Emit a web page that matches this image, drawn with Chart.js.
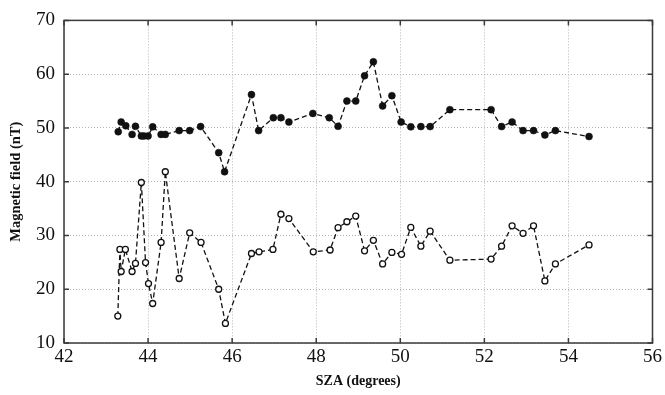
<!DOCTYPE html>
<html>
<head>
<meta charset="utf-8">
<script src="https://cdn.jsdelivr.net/npm/chart.js@4.4.1/dist/chart.umd.min.js"></script>
<style>
  html, body { margin: 0; padding: 0; background: #fff; }
  #wrap { width: 665px; height: 395px; }
</style>
</head>
<body>
<div id="wrap"><canvas id="myChart"></canvas></div>
<script>
// upper curve (filled dots)
var filledSza = [43.29, 43.36, 43.47, 43.62, 43.70, 43.84, 43.90, 44.00, 44.11, 44.31, 44.41, 44.74, 44.99, 45.25, 45.68, 45.82,
    46.46, 46.63, 46.98, 47.16, 47.35, 47.92, 48.31, 48.52, 48.73, 48.94, 49.15, 49.36, 49.58, 49.80, 50.02, 50.25, 50.49, 50.71,
    51.18, 52.16, 52.41, 52.66, 52.92, 53.17, 53.44, 53.69, 54.49];
var filledField = [49.3, 51.1, 50.4, 48.8, 50.3, 48.5, 48.5, 48.5, 50.2, 48.8, 48.8, 49.5, 49.5, 50.25, 45.4, 41.85,
    56.2, 49.5, 51.9, 51.9, 51.1, 52.7, 51.9, 50.3, 55.0, 55.0, 59.7, 62.3, 54.1, 56.0, 51.1, 50.2, 50.25, 50.25,
    53.4, 53.4, 50.25, 51.1, 49.5, 49.5, 48.7, 49.5, 48.4];

// lower curve (open circles)
var openSza = [43.28, 43.33, 43.36, 43.46, 43.62, 43.70, 43.84, 43.94, 44.01, 44.11, 44.31, 44.41, 44.74, 44.99, 45.26, 45.68, 45.84,
    46.46, 46.64, 46.97, 47.16, 47.35, 47.93, 48.33, 48.52, 48.73, 48.94, 49.15, 49.36, 49.58, 49.80, 50.03, 50.25, 50.49, 50.71,
    51.18, 52.16, 52.41, 52.66, 52.92, 53.17, 53.44, 53.69, 54.49];
var openField = [15.0, 27.4, 23.3, 27.4, 23.3, 24.8, 39.85, 24.95, 21.05, 17.35, 28.7, 41.85, 22.0, 30.5, 28.7, 20.0, 13.65,
    26.65, 26.95, 27.4, 33.95, 33.15, 26.95, 27.3, 31.45, 32.55, 33.6, 27.15, 29.1, 24.7, 26.85, 26.5, 31.5, 28.0, 30.8,
    25.4, 25.6, 28.0, 31.8, 30.4, 31.8, 21.55, 24.7, 28.25];

var xTicks = [42, 44, 46, 48, 50, 52, 54, 56];
var yTicks = [10, 20, 30, 40, 50, 60, 70];

function toPoints(xs, ys) {
    return xs.map(function (x, i) { return { x: x, y: ys[i] }; });
}

// box around the plot with small inward ticks
var frame = {
    id: 'frame',
    afterDraw: function (chart) {
        var ctx = chart.ctx;
        var a = chart.chartArea;
        var xs = chart.scales.x, ys = chart.scales.y;
        ctx.save();
        ctx.strokeStyle = '#3a3a3a';
        ctx.lineWidth = 1.5;
        ctx.strokeRect(a.left, a.top, a.right - a.left, a.bottom - a.top);
        ctx.beginPath();
        xTicks.forEach(function (v) {
            var px = xs.getPixelForValue(v);
            ctx.moveTo(px, a.bottom); ctx.lineTo(px, a.bottom - 5);
            ctx.moveTo(px, a.top); ctx.lineTo(px, a.top + 5);
        });
        yTicks.forEach(function (v) {
            var py = ys.getPixelForValue(v);
            ctx.moveTo(a.left, py); ctx.lineTo(a.left + 5, py);
            ctx.moveTo(a.right, py); ctx.lineTo(a.right - 5, py);
        });
        ctx.stroke();
        ctx.restore();
    }
};

var ctx = document.getElementById('myChart').getContext('2d');
var chart = new Chart(ctx, {
    type: 'line',
    data: {
        datasets: [
            {
                label: 'filled',
                data: toPoints(filledSza, filledField),
                borderColor: '#111',
                borderWidth: 1.3,
                borderDash: [5, 3],
                backgroundColor: '#111',
                pointBackgroundColor: '#111',
                pointBorderColor: '#111',
                pointRadius: 3.5,
                pointBorderWidth: 0.5,
                tension: 0
            },
            {
                label: 'open',
                data: toPoints(openSza, openField),
                borderColor: '#111',
                borderWidth: 1.3,
                borderDash: [5, 3],
                backgroundColor: '#fff',
                pointBackgroundColor: '#fff',
                pointBorderColor: '#111',
                pointRadius: 3,
                pointBorderWidth: 1.3,
                tension: 0
            }
        ]
    },
    options: {
        responsive: true,
        maintainAspectRatio: false,
        animation: false,
        layout: { padding: { top: 14, right: 10, left: 0, bottom: 0 } },
        plugins: {
            legend: { display: false },
            tooltip: { enabled: false }
        },
        scales: {
            x: {
                type: 'linear',
                min: 42,
                max: 56,
                afterBuildTicks: function (s) { s.ticks = xTicks.map(function (v) { return { value: v }; }); },
                afterFit: function (s) { s.height = 52; },
                ticks: {
                    color: '#111',
                    padding: 3,
                    maxRotation: 0,
                    font: { family: 'Liberation Serif', size: 19 }
                },
                grid: { color: '#b5b5b5', lineWidth: 1, drawTicks: false },
                border: { display: false, dash: [1, 2] },
                title: {
                    display: true,
                    text: 'SZA (degrees)',
                    color: '#111',
                    padding: { bottom: 5 },
                    font: { family: 'Liberation Serif', size: 14, weight: 'bold' }
                }
            },
            y: {
                type: 'linear',
                min: 10,
                max: 70,
                afterBuildTicks: function (s) { s.ticks = yTicks.map(function (v) { return { value: v }; }); },
                afterFit: function (s) { s.width = 64; },
                ticks: {
                    color: '#111',
                    padding: 9,
                    font: { family: 'Liberation Serif', size: 19 }
                },
                grid: { color: '#b5b5b5', lineWidth: 1, drawTicks: false },
                border: { display: false, dash: [1, 2] },
                title: {
                    display: true,
                    text: 'Magnetic field (nT)',
                    color: '#111',
                    padding: { top: 8 },
                    font: { family: 'Liberation Serif', size: 14.5, weight: 'bold' }
                }
            }
        }
    },
    plugins: [frame]
});
</script>
</body>
</html>
